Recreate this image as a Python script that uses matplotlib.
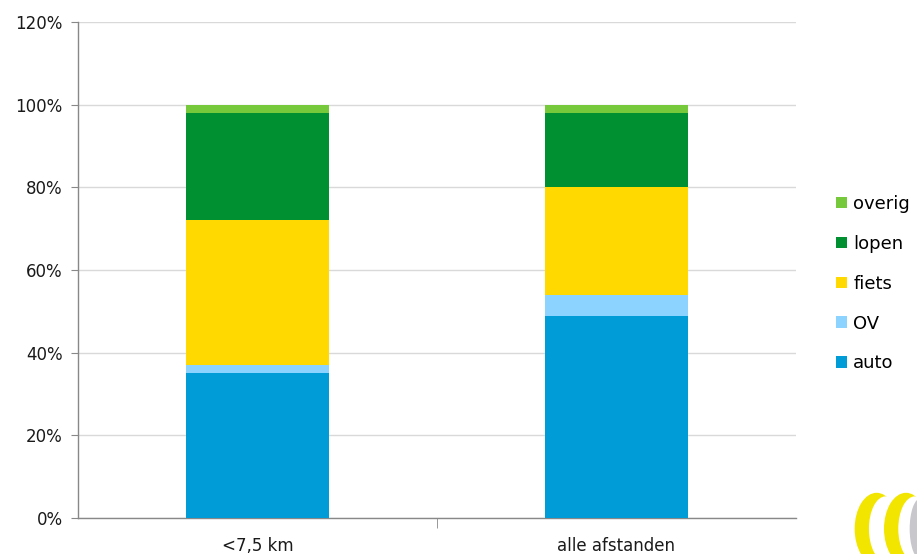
import matplotlib
matplotlib.use("Agg")
import matplotlib.pyplot as plt
from matplotlib.patches import Ellipse
from matplotlib.ticker import FuncFormatter, FixedLocator

# Modal split (share of trips, %)
categories = ["<7,5 km", "alle afstanden"]
modes = ["auto", "OV", "fiets", "lopen", "overig"]
auto = [35, 49]
ov = [2, 5]
fiets = [35, 26]
lopen = [26, 18]
overig = [2, 2]
yticks = [0, 20, 40, 60, 80, 100, 120]

series = [auto, ov, fiets, lopen, overig]
colors = ["#009CD8", "#8DD3FF", "#FFD900", "#009032", "#76C93A"]

plt.rcParams['font.family'] = ['DejaVu Sans']
fig = plt.figure(figsize=(9.17, 5.54), dpi=100)
ax = fig.add_axes([0.085, 0.065, 0.783, 0.895])

x = list(range(len(categories)))
bottom = [0] * len(categories)
handles = []
for name, vals, col in zip(modes, series, colors):
    h = ax.bar(x, vals, width=0.4, bottom=bottom, color=col, label=name,
               edgecolor="none", zorder=3)
    handles.append(h)
    bottom = [b + v for b, v in zip(bottom, vals)]

ax.set_xlim(-0.5, len(categories) - 0.5)
ax.set_ylim(0, 120)
ax.set_yticks(yticks)
ax.yaxis.set_major_formatter(FuncFormatter(lambda v, p: f"{v:.0f}%"))
ax.grid(axis="y", color="#D9D9D9", linewidth=1, zorder=0)

ax.set_xticks(x)
ax.set_xticklabels(categories, fontsize=12, color="#1a1a1a")
ax.tick_params(axis="x", length=0, pad=14)
ax.xaxis.set_minor_locator(FixedLocator([0.5]))
ax.tick_params(axis="x", which="minor", length=7, color="#888888")
ax.tick_params(axis="y", length=5, color="#888888", labelsize=12,
               labelcolor="#1a1a1a", pad=6)

for s in ["top", "right"]:
    ax.spines[s].set_visible(False)
for s in ["left", "bottom"]:
    ax.spines[s].set_color("#888888")
    ax.spines[s].set_linewidth(1)

leg = fig.legend(handles[::-1], modes[::-1], loc="upper left",
                 bbox_to_anchor=(0.904, 0.661), frameon=False, fontsize=13,
                 handlelength=0.6, handleheight=0.6, handletextpad=0.35,
                 labelspacing=1.21, borderaxespad=0)

# Logo fragment in the lower right corner
logo = fig.add_axes([0.92, 0.0, 0.08, 0.13])
logo.set_xlim(0, 1)
logo.set_ylim(0, 1)
logo.axis("off")
for cx in (0.45, 0.85):
    logo.add_patch(Ellipse((cx, 0.35), 0.6, 1.0, facecolor="#F2E600",
                           edgecolor="none"))
    logo.add_patch(Ellipse((cx + 0.12, 0.35), 0.45, 0.9, facecolor="white",
                           edgecolor="none"))
logo.add_patch(Ellipse((1.05, 0.35), 0.3, 0.85, facecolor="#C8C8CC",
                       edgecolor="none"))

fig.savefig("out.png", dpi=100)
